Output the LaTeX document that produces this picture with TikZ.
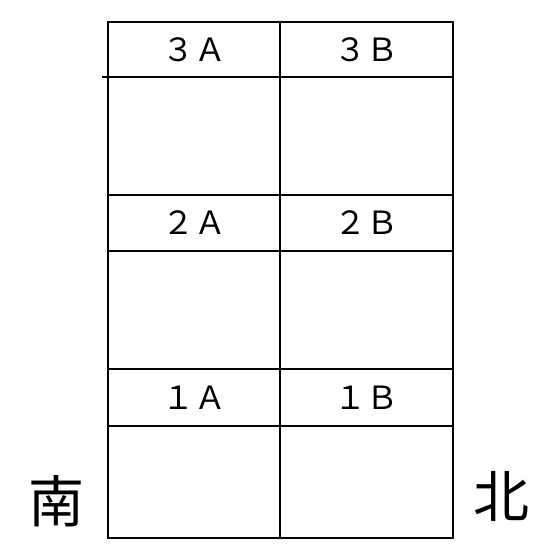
\documentclass[tikz,border=0pt]{standalone}
\usepackage{fontspec}
\newfontfamily\jpfont{Noto Sans CJK JP}
\tikzset{
  wall/.style={line width=2pt, line cap=rect},
  roomlabel/.style={font=\jpfont\fontsize{32}{32}\selectfont, inner sep=0pt},
  compass/.style={font=\jpfont\fontsize{56}{56}\selectfont, inner sep=0pt}
}
\begin{document}
\begin{tikzpicture}[x=1pt,y=-1pt]
    \useasboundingbox (0,0) rectangle (560,560);
    % outline and middle wall
    \draw[wall] (108,22) rectangle (453,538);
    \draw[wall] (280,22) -- (280,538);
    % floor headers
    \draw[wall] (103,77) -- (453,77);
    \foreach \y in {195,251,369,426}
        \draw[wall] (108,\y) -- (453,\y);

    \foreach \f/\d/\y in {3/３/49.5, 2/２/223, 1/１/397.5} {
        \node [roomlabel] (r\f a) at (194,\y) {\d Ａ};
        \node [roomlabel] (r\f b) at (366,\y) {\d Ｂ};
    }

    \node [compass] (south) at (56,501) {南};
    \node [compass] (north) at (501,496) {北};
\end{tikzpicture}
\end{document}
